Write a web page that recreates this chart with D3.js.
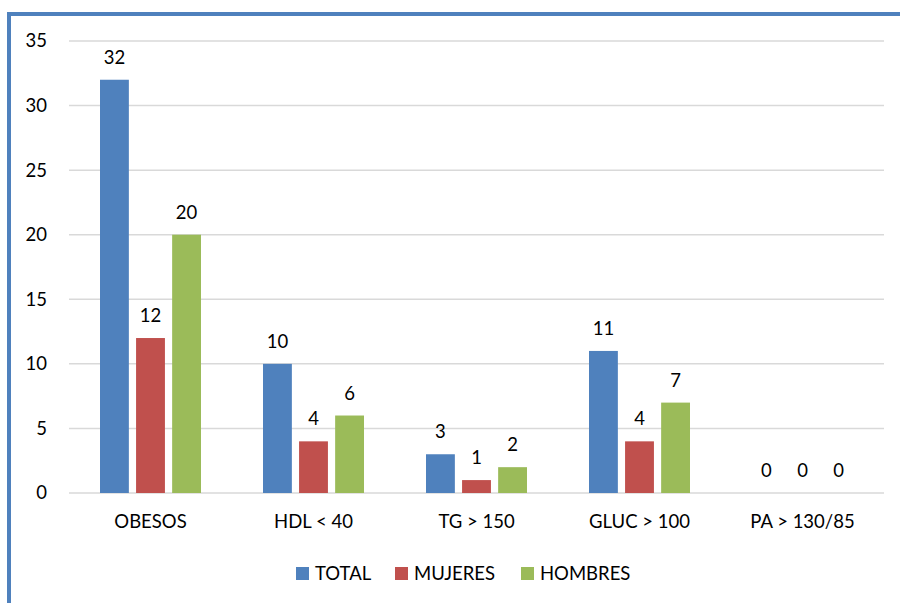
<!DOCTYPE html>
<html>
<head>
<meta charset="utf-8">
<script src="https://cdn.jsdelivr.net/npm/d3@7/dist/d3.min.js"></script>
<style>
  body { margin: 0; background: #fff; }
  text { font-family: Lato, "Open Sans", sans-serif; fill: #000; }
</style>
</head>
<body>
<svg id="chart" width="900" height="603"></svg>
<script>
// data
var categories = ['OBESOS', 'HDL < 40', 'TG > 150', 'GLUC > 100', 'PA > 130/85'];
var seriesNames = ['TOTAL', 'MUJERES', 'HOMBRES'];
var total = [32, 10, 3, 11, 0];
var mujeres = [12, 4, 1, 4, 0];
var hombres = [20, 6, 2, 7, 0];
var yTicks = [0, 5, 10, 15, 20, 25, 30, 35];

var colors = ['#4f81bd', '#c0504d', '#9bbb59'];
var series = [total, mujeres, hombres];
var fontSize = 18.5;

var svg = d3.select('#chart');

// outer chart frame (only top/left visible)
svg.append('rect')
    .attr('x', 9).attr('y', 14)
    .attr('width', 1000).attr('height', 800)
    .attr('fill', 'none')
    .attr('stroke', '#4f81bd')
    .attr('stroke-width', 4);

var plotLeft = 69, plotRight = 884, plotTop = 41, plotBottom = 493;

var x = d3.scaleBand().domain(categories).range([plotLeft, plotRight]);
var xs = d3.scaleBand().domain(seriesNames).range([0, 101]).paddingInner(0.2);
var y = d3.scaleLinear().domain([0, 35]).range([plotBottom, plotTop]);

// gridlines
svg.append('g').selectAll('line')
    .data(yTicks)
    .join('line')
    .attr('x1', plotLeft).attr('x2', plotRight)
    .attr('y1', function(d) { return y(d); })
    .attr('y2', function(d) { return y(d); })
    .attr('stroke', '#d9d9d9')
    .attr('stroke-width', 1.5);

// y tick labels
svg.append('g').selectAll('text')
    .data(yTicks)
    .join('text')
    .attr('x', 47)
    .attr('y', function(d) { return y(d); })
    .attr('dy', '0.35em')
    .attr('text-anchor', 'end')
    .attr('font-size', fontSize)
    .text(function(d) { return d; });

// bars
var groups = svg.append('g').selectAll('g')
    .data(categories)
    .join('g')
    .attr('transform', function(d) {
        return 'translate(' + (x(d) + x.bandwidth() / 2 - 50.5) + ',0)';
    });

groups.each(function(cat, i) {
    var g = d3.select(this);
    seriesNames.forEach(function(s, j) {
        var v = series[j][i];
        g.append('rect')
            .attr('x', xs(s))
            .attr('y', y(v))
            .attr('width', xs.bandwidth())
            .attr('height', plotBottom - y(v))
            .attr('fill', colors[j]);
        g.append('text')
            .attr('x', xs(s) + xs.bandwidth() / 2)
            .attr('y', y(v) - 16)
            .attr('text-anchor', 'middle')
            .attr('font-size', fontSize)
            .text(v);
    });
});

// x labels
svg.append('g').selectAll('text')
    .data(categories)
    .join('text')
    .attr('x', function(d) { return x(d) + x.bandwidth() / 2; })
    .attr('y', 528)
    .attr('text-anchor', 'middle')
    .attr('font-size', fontSize)
    .text(function(d) { return d; });

// legend
var legendX = [296, 395, 521];
var legend = svg.append('g').selectAll('g')
    .data(seriesNames)
    .join('g')
    .attr('transform', function(d, i) { return 'translate(' + legendX[i] + ',567)'; });
legend.append('rect')
    .attr('width', 13).attr('height', 13)
    .attr('fill', function(d, i) { return colors[i]; });
legend.append('text')
    .attr('x', 19).attr('y', 13)
    .attr('font-size', fontSize)
    .text(function(d) { return d; });
</script>
</body>
</html>
